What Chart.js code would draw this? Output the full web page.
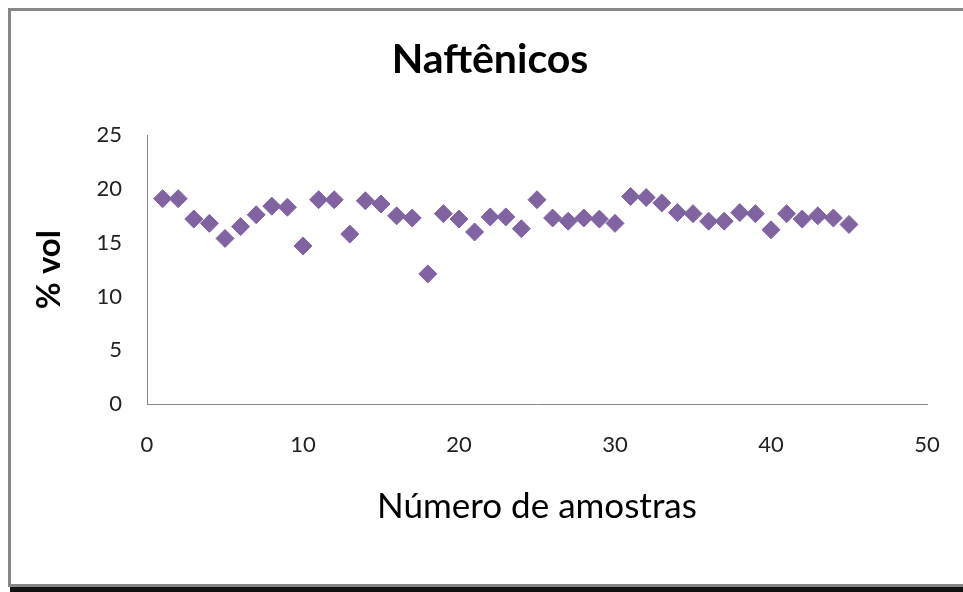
<!DOCTYPE html>
<html>
<head>
<meta charset="utf-8">
<title>Naftênicos</title>
<script src="https://cdn.jsdelivr.net/npm/chart.js@4.4.1/dist/chart.umd.min.js"></script>
<style>
  html, body { margin: 0; padding: 0; background: #fff; overflow: hidden; }
  #frame {
    position: absolute; left: 8px; top: 8px;
    width: 1000px; height: 573px;
    border: 3px solid #878787;
    box-shadow: 2px 5px 0 #111;
  }
  #naftenicos { position: absolute; left: 0; top: 0; }
</style>
</head>
<body>
<div id="frame"></div>
<canvas id="naftenicos" width="963" height="592"></canvas>
<script>
// sample number (x) and % vol (y)
var amostras = [1, 2, 3, 4, 5, 6, 7, 8, 9, 10, 11, 12, 13, 14, 15, 16, 17, 18, 19, 20, 21, 22, 23,
                24, 25, 26, 27, 28, 29, 30, 31, 32, 33, 34, 35, 36, 37, 38, 39, 40, 41, 42, 43, 44, 45];
var volume = [19.1, 19.1, 17.2, 16.8, 15.4, 16.5, 17.6, 18.4, 18.3, 14.7, 19.0, 19.0, 15.8, 18.9, 18.6,
              17.5, 17.3, 12.1, 17.7, 17.2, 16.0, 17.4, 17.4, 16.3, 19.0, 17.3, 17.0, 17.3, 17.2, 16.8,
              19.3, 19.2, 18.7, 17.8, 17.7, 17.0, 17.0, 17.8, 17.7, 16.2, 17.7, 17.2, 17.5, 17.3, 16.7];
var xTicks = [0, 10, 20, 30, 40, 50];
var yTicks = [0, 5, 10, 15, 20, 25];

var points = amostras.map(function(x, i) { return { x: x, y: volume[i] }; });

var tickFont = { family: 'Lato', size: 22 };
var purple = '#8064a2';

// centre the title on the frame rather than on the padded canvas
var titleShift = {
  id: 'titleShift',
  afterLayout: function(chart) {
    chart.titleBlock.left = 17;
    chart.titleBlock.right = 963;
  }
};

function drawChart() {
  var ctx = document.getElementById('naftenicos');

  new Chart(ctx, {
    type: 'scatter',
    data: {
      datasets: [{
        label: 'Naftênicos',
        data: points,
        pointStyle: 'rectRot',
        pointRadius: 9,
        pointHoverRadius: 9,
        backgroundColor: purple,
        borderColor: purple,
        borderWidth: 1
      }]
    },
    options: {
      responsive: false,
      animation: false,
      layout: { padding: { left: 0, right: 36, top: 0, bottom: 0 } },
      plugins: {
        legend: { display: false },
        tooltip: { enabled: false },
        title: {
          display: true,
          text: 'Naftênicos',
          color: '#000',
          font: { family: 'Lato', size: 41, weight: 'bold' },
          padding: { top: 35, bottom: 51 }
        }
      },
      scales: {
        x: {
          type: 'linear',
          min: xTicks[0],
          max: xTicks[xTicks.length - 1],
          afterBuildTicks: function(scale) {
            scale.ticks = xTicks.map(function(v) { return { value: v }; });
          },
          afterFit: function(scale) {
            scale.height = 188;
            scale.paddingLeft = 0;
            scale.paddingRight = 0;
          },
          grid: { display: false, drawTicks: false, tickLength: 0 },
          border: { display: true, color: '#878787', width: 1 },
          ticks: { color: '#222', font: tickFont, padding: 28, maxRotation: 0 },
          title: {
            display: true,
            text: 'Número de amostras',
            color: '#000',
            font: { family: 'Lato', size: 35 },
            padding: { top: 0, bottom: 64 }
          }
        },
        y: {
          type: 'linear',
          min: yTicks[0],
          max: yTicks[yTicks.length - 1],
          afterBuildTicks: function(scale) {
            scale.ticks = yTicks.map(function(v) { return { value: v }; });
          },
          afterFit: function(scale) { scale.width = 147; },
          grid: { display: false, drawTicks: false, tickLength: 0 },
          border: { display: true, color: '#878787', width: 1 },
          ticks: { color: '#222', font: tickFont, padding: 25 },
          title: {
            display: true,
            text: '% vol',
            color: '#000',
            font: { family: 'Lato', size: 33, weight: 'bold' },
            padding: { top: 30, bottom: 0 }
          }
        }
      }
    },
    plugins: [titleShift]
  });
}

drawChart();
</script>
</body>
</html>
